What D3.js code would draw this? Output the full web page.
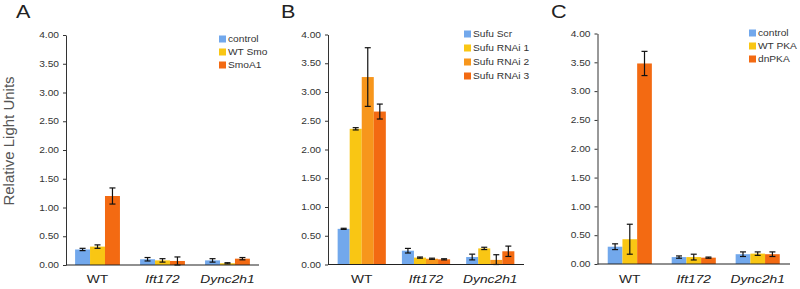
<!DOCTYPE html>
<html>
<head>
<meta charset="utf-8">
<script src="https://cdn.jsdelivr.net/npm/d3@7"></script>
<style>
  body { margin: 0; background: #fff; }
  svg { display: block; font-family: "Liberation Sans", Arial, sans-serif; }
</style>
</head>
<body>
<div id="chart"></div>
<script>
// Shared
const categories = ["WT", "Ift172", "Dync2h1"];
const yTicks = [0, 0.5, 1, 1.5, 2, 2.5, 3, 3.5, 4];

// Panel A
const seriesA = ["control", "WT Smo", "SmoA1"];
const valuesA = [[0.27, 0.10, 0.08], [0.32, 0.08, 0.03], [1.20, 0.07, 0.11]];
const errorsA = [[0.02, 0.03, 0.03], [0.03, 0.03, 0.01], [0.14, 0.07, 0.02]];

// Panel B
const seriesB = ["Sufu Scr", "Sufu RNAi 1", "Sufu RNAi 2", "Sufu RNAi 3"];
const valuesB = [[0.62, 0.24, 0.13], [2.36, 0.12, 0.28], [3.26, 0.10, 0.08], [2.66, 0.09, 0.23]];
const errorsB = [[0.01, 0.04, 0.05], [0.02, 0.01, 0.02], [0.51, 0.01, 0.09], [0.13, 0.01, 0.09]];

// Panel C
const seriesC = ["control", "WT PKA", "dnPKA"];
const valuesC = [[0.30, 0.12, 0.17], [0.43, 0.12, 0.18], [3.48, 0.11, 0.17]];
const errorsC = [[0.05, 0.02, 0.04], [0.26, 0.05, 0.03], [0.21, 0.01, 0.04]];

const BLUE = "#72a8ec", YELLOW = "#f9c614", ORANGE = "#f7961c", RED = "#f36a12";

const panels = [
    { letter: "A", series: seriesA, values: valuesA, errors: errorsA, colors: [BLUE, YELLOW, RED],
      x0: 66, x1: 259, yTop: 35, yBot: 265, pi: 0.31, po: 0.14,
      lx: 219, ly: 39, letterX: 16 },
    { letter: "B", series: seriesB, values: valuesB, errors: errorsB, colors: [BLUE, YELLOW, ORANGE, RED],
      x0: 328, x1: 524, yTop: 34.5, yBot: 264.5, pi: 0.25, po: 0.15,
      lx: 464, ly: 34, letterX: 281 },
    { letter: "C", series: seriesC, values: valuesC, errors: errorsC, colors: [BLUE, YELLOW, RED],
      x0: 597.5, x1: 790, yTop: 33.5, yBot: 264, pi: 0.31, po: 0.16,
      lx: 749, ly: 33, letterX: 551 }
];

const W = 800, H = 289, SX = 1.2; // text looks horizontally stretched in the original

const svg = d3.select("#chart").append("svg")
    .attr("width", W).attr("height", H);

function stretchedText(g, x, y, txt) {
    return g.append("text")
        .attr("transform", `translate(${x},${y}) scale(${SX},1)`)
        .text(txt);
}

// Y title
svg.append("text")
    .attr("transform", "translate(14,141) rotate(-90)")
    .attr("text-anchor", "middle")
    .attr("font-size", 15)
    .attr("fill", "#555")
    .text("Relative Light Units");

panels.forEach(p => {
    const g = svg.append("g");

    const y = d3.scaleLinear().domain([0, 4]).range([p.yBot, p.yTop]);
    const x = d3.scaleBand().domain(categories).range([p.x0, p.x1])
        .paddingInner(p.pi).paddingOuter(p.po).align(0.5);
    const xs = d3.scaleBand().domain(p.series).range([0, x.bandwidth()]);

    // Y axis
    const yAxisG = g.append("g")
        .attr("transform", `translate(${p.x0},0)`)
        .call(d3.axisLeft(y).tickValues(yTicks).tickFormat(d3.format(".2f"))
            .tickSize(3).tickSizeOuter(0));
    yAxisG.select(".domain").attr("stroke", "#333").attr("stroke-width", 1);
    yAxisG.selectAll(".tick line").attr("stroke", "#333");
    yAxisG.selectAll(".tick text")
        .attr("x", null).attr("dy", "0.32em")
        .attr("transform", `translate(-7,0) scale(${SX},1)`)
        .attr("font-size", 8.5)
        .attr("fill", "#333");

    // Bars
    p.series.forEach((s, si) => {
        const sg = g.append("g");
        sg.selectAll("rect")
            .data(categories)
            .join("rect")
            .attr("x", c => x(c) + xs(s))
            .attr("y", (c, ci) => y(p.values[si][ci]))
            .attr("width", xs.bandwidth())
            .attr("height", (c, ci) => y(0) - y(p.values[si][ci]))
            .attr("fill", p.colors[si]);

        // Error bars
        categories.forEach((c, ci) => {
            const v = p.values[si][ci], e = p.errors[si][ci];
            const cx = x(c) + xs(s) + xs.bandwidth() / 2;
            const lo = y(Math.max(0, v - e)), hi = y(v + e);
            sg.append("line").attr("x1", cx).attr("x2", cx).attr("y1", lo).attr("y2", hi)
                .attr("stroke", "#111").attr("stroke-width", 1.2);
            [lo, hi].forEach(yy => {
                sg.append("line").attr("x1", cx - 3).attr("x2", cx + 3).attr("y1", yy).attr("y2", yy)
                    .attr("stroke", "#111").attr("stroke-width", 1.2);
            });
        });
    });

    // X axis line
    g.append("line")
        .attr("x1", p.x0).attr("x2", p.x1).attr("y1", y(0)).attr("y2", y(0))
        .attr("stroke", "#222").attr("stroke-width", 1.2);

    // Category labels
    categories.forEach(c => {
        stretchedText(g, x(c) + x.bandwidth() / 2, 283, c)
            .attr("text-anchor", "middle")
            .attr("font-size", 11.5)
            .attr("font-style", c === "WT" ? "normal" : "italic")
            .attr("fill", "#222");
    });

    // Panel letter
    stretchedText(g, p.letterX, 18, p.letter)
        .attr("font-size", 18)
        .attr("fill", "#222");

    // Legend
    const step = p.series.length === 4 ? 14 : 13;
    p.series.forEach((s, si) => {
        const ly = p.ly + si * step;
        g.append("rect")
            .attr("x", p.lx).attr("y", ly - 3.5)
            .attr("width", 7).attr("height", 7)
            .attr("fill", p.colors[si]);
        stretchedText(g, p.lx + 9, ly, s)
            .attr("dy", "0.35em")
            .attr("font-size", 8.5)
            .attr("fill", "#333");
    });
});
</script>
</body>
</html>
